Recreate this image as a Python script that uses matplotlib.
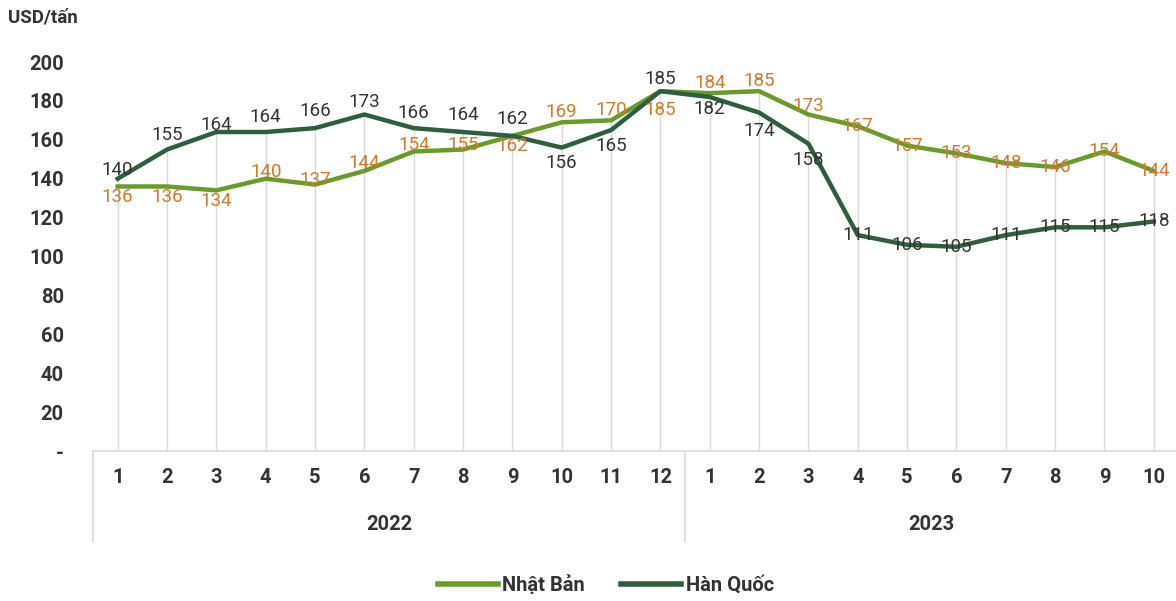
import matplotlib.pyplot as plt
import matplotlib.transforms as mtransforms

# data
months = ["1", "2", "3", "4", "5", "6", "7", "8", "9", "10", "11", "12",
          "1", "2", "3", "4", "5", "6", "7", "8", "9", "10"]
years = ["2022", "2023"]
year_lengths = [12, 10]
nhat_ban = [136, 136, 134, 140, 137, 144, 154, 155, 162, 169, 170, 185,
            184, 185, 173, 167, 157, 153, 148, 146, 154, 144]
han_quoc = [140, 155, 164, 164, 166, 173, 166, 164, 162, 156, 165, 185,
            182, 174, 158, 111, 106, 105, 111, 115, 115, 118]

# label placement (pixels up from the point)
nb_offsets = [-11, -11, -11, 7, 5, 8, 6, 5, -10, 10, 10, -19,
              10, 10, 9, 0, 0, 0, 0, 0, 0, 0]
hq_offsets = [9, 15, 7, 15, 17, 13, 15, 17, 17, -15, -16, 12,
              -12, -18, -16, 0, 0, 0, 0, 0, 0, 0]

C_NB = "#6b9a2c"
C_HQ = "#2f5e3f"
C_NB_LBL = "#d27a2c"
C_TXT = "#333333"
C_GRID = "#d9d9d9"

plt.rcParams["font.family"] = ["Roboto", "DejaVu Sans"]

fig = plt.figure(figsize=(11.76, 6.01), dpi=100)
ax = fig.add_axes([93 / 1176, 150 / 601, 1 - 93 / 1176, 389 / 601])

x = list(range(len(months)))
tops = [max(a, b) for a, b in zip(nhat_ban, han_quoc)]
ax.vlines(x, 0, tops, color=C_GRID, lw=1, zorder=1)

ax.plot(x, nhat_ban, color=C_NB, lw=3.2, label="Nhật Bản", zorder=3)
ax.plot(x, han_quoc, color=C_HQ, lw=3.2, label="Hàn Quốc", zorder=3)

for i in x:
    ax.annotate(str(nhat_ban[i]), (i, nhat_ban[i]), xytext=(0, nb_offsets[i] / 1.389),
                textcoords="offset points", ha="center", va="center",
                fontsize=13.5, color=C_NB_LBL, zorder=4)
    ax.annotate(str(han_quoc[i]), (i, han_quoc[i]), xytext=(0, hq_offsets[i] / 1.389),
                textcoords="offset points", ha="center", va="center",
                fontsize=13.5, color=C_TXT, zorder=4)

ax.set_xlim(-0.5, 21.45)
ax.set_ylim(0, 200)
ax.set_xticks([])
ax.set_yticks(range(0, 201, 20))
ax.set_yticklabels(["-"] + [str(v) for v in range(20, 201, 20)],
                   fontsize=14.5, fontweight="bold", color=C_TXT)
ax.tick_params(axis="y", length=0, pad=21)
for s in ["top", "right", "left"]:
    ax.spines[s].set_visible(False)
ax.spines["bottom"].set_color(C_GRID)
ax.spines["bottom"].set_linewidth(1.2)

trans = mtransforms.blended_transform_factory(ax.transData, ax.transAxes)
for i in x:
    ax.text(i, -0.069, months[i], transform=trans, ha="center", va="center",
            fontsize=14.5, fontweight="bold", color=C_TXT)

start = 0
for yr, n in zip(years, year_lengths):
    ax.text(start + (n - 1) / 2, -0.19, yr, transform=trans, ha="center", va="center",
            fontsize=14.5, fontweight="bold", color=C_TXT)
    ax.plot([start - 0.5, start - 0.5], [0, -0.234], transform=trans, color=C_GRID,
            lw=1.2, clip_on=False)
    start += n

fig.text(8 / 1176, 1 - 18 / 601, "USD/tấn", ha="left", va="center",
         fontsize=13.5, fontweight="bold", color=C_TXT)

leg = fig.legend(loc="center", bbox_to_anchor=(0.515, 1 - 585 / 601), ncol=2,
                 frameon=False, handlelength=3.0, handletextpad=0.2, columnspacing=1.8,
                 prop={"size": 14.5, "weight": "bold"})
for t in leg.get_texts():
    t.set_color(C_TXT)
for h in leg.get_lines():
    h.set_linewidth(4)

fig.savefig("out.png", dpi=100)
